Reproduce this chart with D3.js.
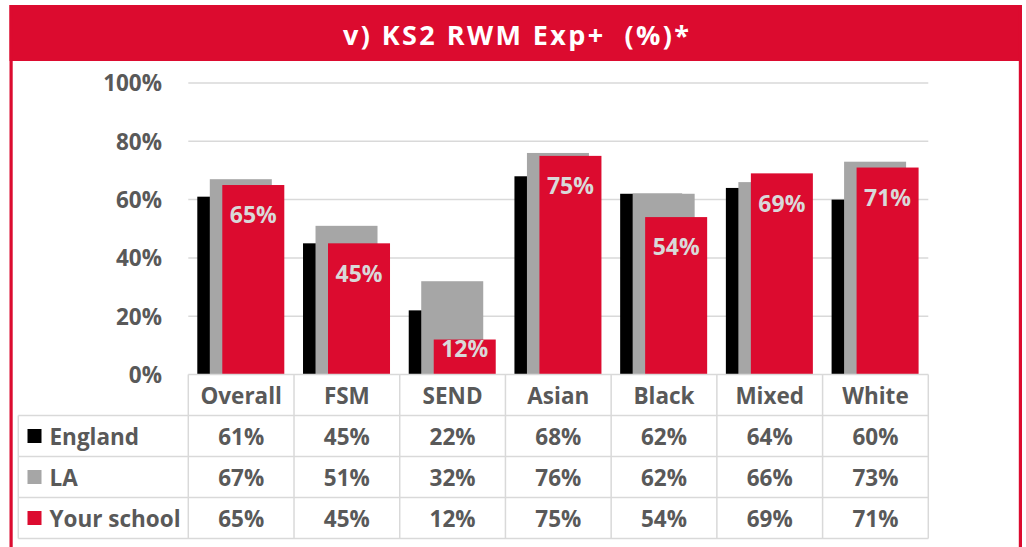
<!DOCTYPE html>
<html>
<head>
<meta charset="utf-8">
<script src="https://cdn.jsdelivr.net/npm/d3@7"></script>
<style>
  body { margin: 0; background: #fff; }
  text { font-family: "Open Sans", "Noto Sans", sans-serif; font-weight: bold; }
</style>
</head>
<body>
<div id="chart"></div>
<script>
// data
const categories = ["Overall", "FSM", "SEND", "Asian", "Black", "Mixed", "White"];
const england = [61, 45, 22, 68, 62, 64, 60];
const la = [67, 51, 32, 76, 62, 66, 73];
const school = [65, 45, 12, 75, 54, 69, 71];
const yTicks = [0, 20, 40, 60, 80, 100];
const seriesNames = ["England", "LA", "Your school"];
const seriesColors = ["#000000", "#a6a6a6", "#dc0b2f"];

const width = 1026, height = 547;
const red = "#dc0b2f", textGrey = "#595959", lineGrey = "#d9d9d9";
const fontSize = "22.5px";

const svg = d3.select("#chart")
  .append("svg")
  .attr("width", width)
  .attr("height", height);

// frame + title band
svg.append("rect")
  .attr("x", 9.5).attr("y", 5)
  .attr("width", 1012.5).attr("height", 56)
  .attr("fill", red);
svg.append("rect").attr("x", 9.5).attr("y", 5).attr("width", 3.2).attr("height", height).attr("fill", red);
svg.append("rect").attr("x", 1018.8).attr("y", 5).attr("width", 3.2).attr("height", height).attr("fill", red);

// title is a bit letter-spaced in the original
svg.append("text")
  .attr("x", 516).attr("y", 44.5)
  .attr("text-anchor", "middle")
  .attr("fill", "#fff")
  .attr("textLength", 346)
  .attr("lengthAdjust", "spacing")
  .style("font-size", "27px")
  .style("white-space", "pre")
  .text("v) KS2 RWM Exp+  (%)*");

// scales
const x = d3.scaleBand()
  .domain(categories)
  .range([188.3, 928.3])
  .padding(0);
const y = d3.scaleLinear()
  .domain([0, 100])
  .range([374.5, 83]);

const barW = 62, step = 12.5, pad = 9;

// gridlines
svg.append("g")
  .selectAll("line")
  .data(yTicks.filter(d => d > 0))
  .join("line")
    .attr("x1", 188.3).attr("x2", 928.3)
    .attr("y1", d => y(d)).attr("y2", d => y(d))
    .attr("stroke", lineGrey)
    .attr("stroke-width", 1.5);

// y axis labels
svg.append("g")
  .selectAll("text")
  .data(yTicks)
  .join("text")
    .attr("x", 162)
    .attr("y", d => y(d) + 8.3)
    .attr("text-anchor", "end")
    .attr("fill", textGrey)
    .style("font-size", fontSize)
    .text(d => d + "%");

// bars, drawn back to front
const allSeries = [england, la, school];
allSeries.forEach(function(vals, s) {
  svg.append("g")
    .selectAll("rect")
    .data(categories)
    .join("rect")
      .attr("x", (d) => x(d) + pad + s * step)
      .attr("y", (d, i) => y(vals[i]))
      .attr("width", barW)
      .attr("height", (d, i) => y(0) - y(vals[i]))
      .attr("fill", seriesColors[s]);
});

// labels inside the school bars
svg.append("g")
  .selectAll("text")
  .data(categories)
  .join("text")
    .attr("x", d => x(d) + pad + 2 * step + barW / 2)
    .attr("y", function(d, i) {
      const top = y(school[i]);
      const h = y(0) - top;
      return top + Math.min(30, h / 2 - 8) + 8.3;
    })
    .attr("text-anchor", "middle")
    .attr("fill", lineGrey)
    .style("font-size", "23px")
    .text((d, i) => school[i] + "%");

// data table below
const rowH = 41, tableTop = 374.5, tableLeft = 18.3, tableRight = 928.3;
const table = svg.append("g");

// horizontal lines
table.append("line")
  .attr("x1", 188.3).attr("x2", tableRight)
  .attr("y1", tableTop).attr("y2", tableTop)
  .attr("stroke", lineGrey).attr("stroke-width", 1.5);
[1, 2, 3, 4].forEach(function(r) {
  table.append("line")
    .attr("x1", tableLeft).attr("x2", tableRight)
    .attr("y1", tableTop + r * rowH).attr("y2", tableTop + r * rowH)
    .attr("stroke", lineGrey).attr("stroke-width", 1.5);
});
// vertical lines
table.append("line")
  .attr("x1", tableLeft).attr("x2", tableLeft)
  .attr("y1", tableTop + rowH).attr("y2", tableTop + 4 * rowH)
  .attr("stroke", lineGrey).attr("stroke-width", 1.5);
table.selectAll("line.col")
  .data(categories.concat(["end"]))
  .join("line")
    .attr("class", "col")
    .attr("x1", (d, i) => i < categories.length ? x(d) : x.range()[1])
    .attr("x2", (d, i) => i < categories.length ? x(d) : x.range()[1])
    .attr("y1", tableTop).attr("y2", tableTop + 4 * rowH)
    .attr("stroke", lineGrey).attr("stroke-width", 1.5);

// header row
table.append("g")
  .selectAll("text")
  .data(categories)
  .join("text")
    .attr("x", d => x(d) + x.bandwidth() / 2)
    .attr("y", tableTop + rowH / 2 + 8.5)
    .attr("text-anchor", "middle")
    .attr("fill", textGrey)
    .style("font-size", fontSize)
    .text(d => d);

// value rows
allSeries.forEach(function(vals, s) {
  const rowY = tableTop + (s + 1) * rowH;
  table.append("rect")
    .attr("x", 27.5).attr("y", rowY + rowH / 2 - 7)
    .attr("width", 14).attr("height", 14)
    .attr("fill", seriesColors[s]);
  table.append("text")
    .attr("x", 49.5).attr("y", rowY + rowH / 2 + 8.5)
    .attr("fill", textGrey)
    .style("font-size", fontSize)
    .text(seriesNames[s]);
  table.append("g")
    .selectAll("text")
    .data(categories)
    .join("text")
      .attr("x", d => x(d) + x.bandwidth() / 2)
      .attr("y", rowY + rowH / 2 + 8.5)
      .attr("text-anchor", "middle")
      .attr("fill", textGrey)
      .style("font-size", fontSize)
      .text((d, i) => vals[i] + "%");
});
</script>
</body>
</html>
